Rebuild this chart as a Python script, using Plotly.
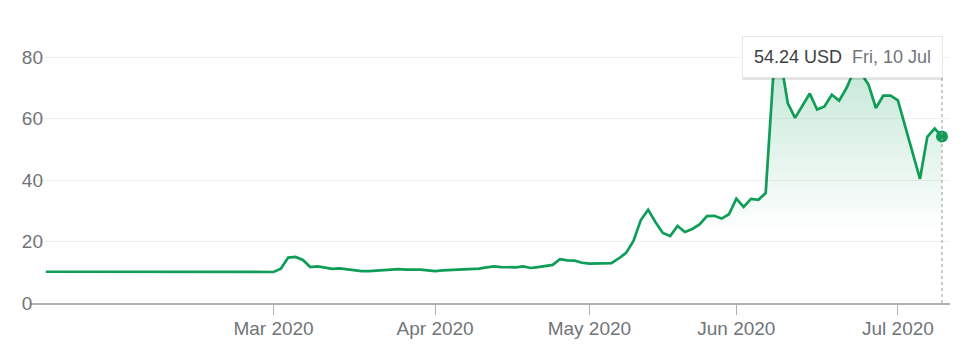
import pandas as pd
import plotly.graph_objects as go

# ---- data ----
holidays = ["2020-01-20", "2020-02-17", "2020-04-10", "2020-05-25", "2020-07-03"]
dates = [d.strftime("%Y-%m-%d") for d in
         pd.bdate_range("2020-01-15", "2020-07-10", freq="C", holidays=holidays)]

prices = [
    # Jan 15 - Feb 28
    10.18, 10.18, 10.19, 10.18, 10.19, 10.18, 10.19, 10.20, 10.19, 10.20, 10.21, 10.20,
    10.22, 10.23, 10.22, 10.24, 10.28, 10.29, 10.30, 10.29, 10.28, 10.27, 10.24, 10.23,
    10.25, 10.26, 10.32, 10.33, 10.31, 10.30, 10.29,
    # March
    10.10, 11.2, 14.8, 15.0, 14.0, 11.7, 11.9, 11.5, 11.1, 11.3, 11.0, 10.7, 10.4, 10.35,
    10.5, 10.6, 10.8, 11.0, 10.9, 10.9, 10.85, 10.6,
    # April
    10.4, 10.6, 10.75, 10.9, 11.0, 11.0, 11.2, 11.6, 11.9, 11.7, 11.6, 11.6, 11.9, 11.4,
    11.7, 12.0, 12.4, 14.3, 13.9, 13.8, 13.1,
    # May
    12.8, 12.9, 13.0, 13.0, 14.5, 16.3, 20.2, 27.0, 30.4, 26.3, 22.8, 21.8, 25.1, 23.1,
    24.1, 25.6, 28.3, 28.4, 27.5, 28.9,
    # June
    34.0, 31.3, 33.9, 33.6, 35.8, 73.0, 79.73, 65.1, 60.3, 64.2, 68.2, 63.0, 64.0, 67.8,
    65.9, 70.0, 75.5, 74.8, 71.1, 63.5, 67.5, 67.5,
    # July
    66.0, 57.4, 48.7, 40.4, 54.1, 56.8, 54.24,
]

tick_dates = ["2020-03-02", "2020-04-01", "2020-05-01", "2020-06-01", "2020-07-01"]
tick_labels = ["Mar 2020", "Apr 2020", "May 2020", "Jun 2020", "Jul 2020"]
y_ticks = [0, 20, 40, 60, 80]
y_labels = ["0\u2007", "20", "40", "60", "80"]

hover_label = "54.24 USD"
hover_date = "Fri, 10 Jul"

GREEN = "#0F9D58"
GREY = "#70757a"
FONT = "Liberation Sans, Arial, sans-serif"

fig = go.Figure()

fig.add_trace(go.Scatter(
    x=dates, y=prices,
    mode="lines", line=dict(width=0, color="rgba(0,0,0,0)"),
    fill="tozeroy",
    fillgradient=dict(
        type="vertical", start=0, stop=80,
        colorscale=[[0, "rgba(15,157,88,0.0)"], [0.28, "rgba(15,157,88,0.0)"],
                    [1, "rgba(15,157,88,0.25)"]],
    ),
    hoverinfo="skip", showlegend=False,
))

fig.add_trace(go.Scatter(
    x=dates, y=prices, mode="lines",
    line=dict(color=GREEN, width=2.7),
    hoverinfo="skip", showlegend=False,
))

fig.add_trace(go.Scatter(
    x=[dates[-1]], y=[prices[-1]], mode="markers",
    marker=dict(color=GREEN, size=12),
    hoverinfo="skip", showlegend=False,
))

# dashed hover guide
fig.add_shape(type="line", xref="x", yref="y",
              x0=dates[-1], x1=dates[-1], y0=0, y1=73.4,
              line=dict(color="#9a9a9a", width=1, dash="3px,3px"))

# tooltip shadow + box
fig.add_annotation(x=dates[-1], y=80, xref="x", yref="y", xanchor="right", yanchor="middle",
                   xshift=1.5, yshift=-1.5, text="", showarrow=False, width=199, height=40,
                   bgcolor="rgba(0,0,0,0.10)", borderwidth=1, bordercolor="rgba(0,0,0,0.06)",
                   borderpad=0)
fig.add_annotation(x=dates[-1], y=80, xref="x", yref="y", xanchor="right", yanchor="middle",
                   xshift=1.5, showarrow=False, width=199, height=40, borderpad=0,
                   text=f"<span style='color:#3c4043'>{hover_label}</span>&nbsp;&nbsp;"
                        f"<span style='color:{GREY}'>{hover_date}</span>",
                   font=dict(family=FONT, size=18),
                   bgcolor="white", bordercolor="#e6e6e6", borderwidth=1, align="center")

fig.update_layout(
    width=960, height=349,
    margin=dict(l=30, r=10, t=30, b=46),
    paper_bgcolor="white", plot_bgcolor="white",
    font=dict(family=FONT, size=19, color=GREY),
    hovermode=False,
    xaxis=dict(
        type="category", categoryorder="array", categoryarray=dates,
        range=[-2.15, 123.09],
        tickvals=tick_dates, ticktext=tick_labels,
        showgrid=False, showline=True, linecolor="#b0b0b0", linewidth=2,
        ticks="outside", ticklen=10, tickwidth=1, tickcolor="#b0b0b0",
        ticklabelstandoff=-3,
        tickfont=dict(family=FONT, size=19, color=GREY),
        zeroline=False, fixedrange=True,
    ),
    yaxis=dict(
        range=[0, 88.9], tickvals=y_ticks, ticktext=y_labels,
        showgrid=True, gridcolor="#f0f0f0", gridwidth=1,
        zeroline=False, showline=False, ticks="",
        ticklabelstandoff=-14,
        tickfont=dict(family=FONT, size=19, color=GREY),
        fixedrange=True,
    ),
)

fig.write_html("out.html", config={"displayModeBar": False, "staticPlot": True})
